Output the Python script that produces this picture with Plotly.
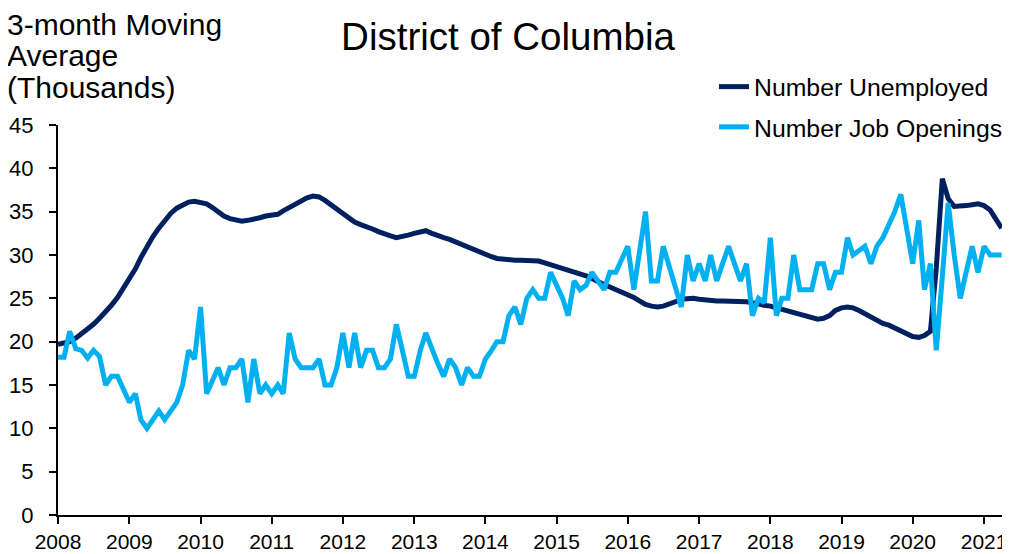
import pandas as pd
import plotly.graph_objects as go

# Monthly observations, Jan 2008 - Apr 2021 (3-month moving average, thousands)
months = pd.date_range("2008-01-01", "2021-04-01", freq="MS")

unemployed = [
    19.7, 19.8, 20.0, 20.4, 20.9, 21.4, 22.0, 22.7, 23.4, 24.2, 25.1, 26.1,   # 2008
    27.2, 28.4, 29.7, 31.0, 32.1, 33.1, 34.0, 34.8, 35.4, 35.8, 36.1, 36.2,   # 2009
    36.1, 35.9, 35.5, 35.0, 34.5, 34.2, 34.0, 33.9, 34.0, 34.1, 34.3, 34.5,   # 2010
    34.6, 34.7, 35.1, 35.5, 35.9, 36.3, 36.6, 36.8, 36.7, 36.3, 35.8, 35.3,   # 2011
    34.7, 34.2, 33.8, 33.5, 33.3, 33.0, 32.7, 32.4, 32.2, 32.0, 32.1, 32.3,   # 2012
    32.5, 32.7, 32.8, 32.5, 32.2, 32.0, 31.8, 31.5, 31.2, 30.9, 30.6, 30.3,   # 2013
    30.0, 29.8, 29.6, 29.5, 29.5, 29.4, 29.4, 29.4, 29.3, 29.3, 29.1, 28.9,   # 2014
    28.7, 28.5, 28.3, 28.1, 27.8, 27.6, 27.3, 26.9, 26.6, 26.3, 26.0, 25.8,   # 2015
    25.5, 25.1, 24.7, 24.3, 24.1, 24.0, 24.1, 24.3, 24.6, 24.9, 25.0, 25.0,   # 2016
    24.9, 24.8, 24.8, 24.7, 24.7, 24.7, 24.7, 24.7, 24.6, 24.5, 24.3, 24.2,   # 2017
    24.1, 23.9, 23.8, 23.6, 23.4, 23.2, 23.0, 22.8, 22.6, 22.7, 23.0, 23.6,   # 2018
    23.9, 24.0, 23.9, 23.6, 23.2, 22.8, 22.4, 22.1, 21.9, 21.6, 21.3, 20.9,   # 2019
    20.6, 20.5, 20.7, 21.2, 28.5, 38.8, 36.5, 35.6, 35.6, 35.7, 35.8, 35.9,   # 2020
    35.7, 35.2, 34.2, 33.1,                                                   # 2021
]

job_openings = [
    18.2, 18.2, 21.2, 19.2, 19.0, 18.1, 19.0, 18.3, 15.0, 16.0, 16.0, 14.5,   # 2008
    13.0, 14.0, 11.0, 10.0, 11.0, 12.0, 11.0, 12.0, 13.0, 15.0, 19.0, 18.0,   # 2009
    24.0, 14.0, 15.5, 17.0, 15.0, 17.0, 17.0, 18.0, 13.0, 18.0, 14.0, 15.0,   # 2010
    14.0, 15.0, 14.0, 21.0, 18.0, 17.0, 17.0, 17.0, 18.0, 15.0, 15.0, 17.0,   # 2011
    21.0, 17.0, 21.0, 17.0, 19.0, 19.0, 17.0, 17.0, 18.0, 22.0, 19.0, 16.0,   # 2012
    16.0, 19.0, 21.0, 19.0, 17.5, 16.0, 18.0, 17.0, 15.0, 17.0, 16.0, 16.0,   # 2013
    18.0, 19.0, 20.0, 20.0, 23.0, 24.0, 22.0, 25.0, 26.0, 25.0, 25.0, 28.0,   # 2014
    26.5, 25.0, 23.0, 27.0, 26.0, 26.5, 28.0, 27.0, 26.0, 28.0, 28.0, 29.5,   # 2015
    31.0, 26.0, 30.5, 35.0, 27.0, 27.0, 31.0, 28.5, 26.0, 24.0, 30.0, 27.0,   # 2016
    29.0, 27.0, 30.0, 27.0, 29.0, 31.0, 29.0, 27.0, 29.0, 23.0, 25.0, 24.5,   # 2017
    32.0, 23.0, 25.0, 25.0, 30.0, 26.0, 26.0, 26.0, 29.0, 29.0, 26.0, 28.0,   # 2018
    28.0, 32.0, 30.0, 30.5, 31.0, 29.0, 31.0, 32.0, 33.5, 35.0, 37.0, 33.0,   # 2019
    29.0, 34.0, 26.0, 29.0, 19.0, 27.5, 36.0, 30.0, 25.0, 28.0, 31.0, 28.0,   # 2020
    31.0, 30.0, 30.0, 30.0,                                                   # 2021
]

series_names = ["Number Unemployed", "Number Job Openings"]
series_colors = ["#002060", "#00B0F0"]
y_ticks = [0, 5, 10, 15, 20, 25, 30, 35, 40, 45]
title_text = "District of Columbia"
y_title_lines = ["3-month Moving", "Average", "(Thousands)"]

FONT = "Liberation Sans, Arial, sans-serif"

fig = go.Figure()
for name, vals, col in zip(series_names, [unemployed, job_openings], series_colors):
    fig.add_trace(go.Scatter(
        x=months, y=vals, mode="lines", name=name,
        legendgroup=name,
        line=dict(color=col, width=5),
    ))

# The page body adds an 8px offset, so the figure is sized/positioned for that.
OFF = 8
W, H = 1002, 546
L, R, T, B = 50, 8, 117, 39
pw, ph = W - L - R, H - T - B

def px_to_paper_x(px):          # px: page pixel
    return (px - OFF - L) / pw

def px_to_paper_y(py):
    return (H - B - (py - OFF)) / ph

annotations = []
for line, cy in zip(y_title_lines, [24, 56, 88]):
    annotations.append(dict(
        text=line, xref="paper", yref="paper",
        x=px_to_paper_x(5), y=px_to_paper_y(cy),
        xanchor="left", yanchor="middle", showarrow=False,
        font=dict(family=FONT, size=30, color="#000000"),
    ))

fig.update_layout(
    width=W, height=H,
    margin=dict(l=L, r=R, t=T, b=B, autoexpand=False),
    paper_bgcolor="white", plot_bgcolor="white",
    title=dict(text=title_text, x=(508 - OFF) / W, xanchor="center",
               y=1 - (37 - OFF) / H, yanchor="middle",
               font=dict(family=FONT, size=38.5, color="#000000")),
    annotations=annotations,
    showlegend=True,
    legend=dict(
        x=px_to_paper_x(714), y=px_to_paper_y(64), xanchor="left", yanchor="top",
        font=dict(family=FONT, size=24.8, color="#000000"),
        traceorder="grouped", tracegroupgap=5,
        bgcolor="rgba(0,0,0,0)", itemwidth=30,
    ),
    xaxis=dict(
        type="date",
        range=["2008-01-01", "2021-04-03"],
        tick0="2008-01-01", dtick="M12", tickformat="%Y",
        ticks="outside", ticklen=7, tickwidth=1.5, tickcolor="#000000",
        showline=True, linecolor="#000000", linewidth=2,
        showgrid=False, zeroline=False,
        tickfont=dict(family=FONT, size=21, color="#000000"),
    ),
    yaxis=dict(
        range=[0, 45], tickvals=y_ticks,
        ticks="outside", ticklen=7, tickwidth=1.5, tickcolor="#000000",
        showline=True, linecolor="#000000", linewidth=2,
        showgrid=False, zeroline=False, ticklabelstandoff=11,
        tickfont=dict(family=FONT, size=22, color="#000000"),
    ),
)

fig.write_html("out.html")
